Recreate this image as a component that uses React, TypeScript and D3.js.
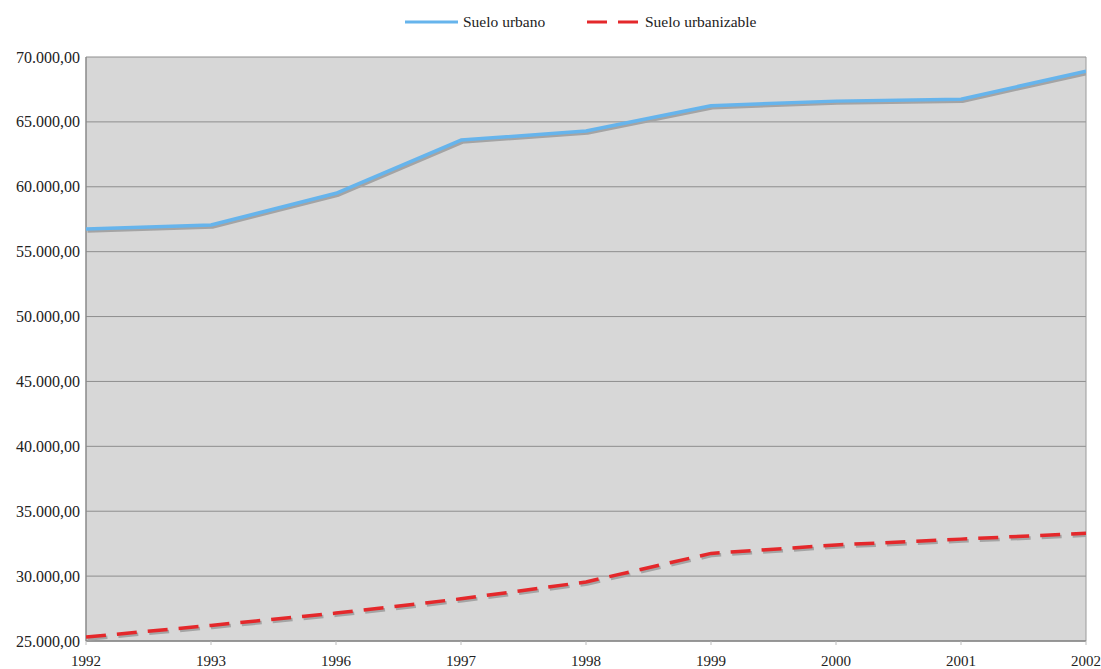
import React from "react";
import * as d3 from "d3";

// Years along the x axis (categorical, evenly spaced)
const years = ["1992", "1993", "1996", "1997", "1998", "1999", "2000", "2001", "2002"];

// Hectares of land by classification
const sueloUrbano = [56750, 57050, 59500, 63600, 64300, 66250, 66600, 66750, 68900];
const sueloUrbanizable = [25300, 26200, 27150, 28250, 29550, 31750, 32400, 32850, 33300];

const yTicks = [25000, 30000, 35000, 40000, 45000, 50000, 55000, 60000, 65000, 70000];

const seriesNames = ["Suelo urbano", "Suelo urbanizable"];

const W = 1101;
const H = 669;
const margin = { top: 57, right: 15, bottom: 28, left: 86 };

const fmt = (v: number) => {
  const s = Math.round(v).toString().replace(/\B(?=(\d{3})+(?!\d))/g, ".");
  return s + ",00";
};

const FONT =
  '"Liberation Serif", Tinos, "Times New Roman", Times, "DejaVu Serif", serif';

export default function App() {
  const x = d3
    .scalePoint<string>()
    .domain(years)
    .range([margin.left, W - margin.right]);
  const y = d3
    .scaleLinear()
    .domain([25000, 70000])
    .range([H - margin.bottom, margin.top]);

  const line = d3
    .line<number>()
    .x((_, i) => x(years[i]) as number)
    .y((d) => y(d));

  const x0 = margin.left;
  const x1 = W - margin.right;
  const yTop = margin.top;
  const yBot = H - margin.bottom;
  const txt = { fontFamily: FONT };

  return (
    <svg
      width={W}
      height={H}
      style={{ position: "absolute", left: 0, top: 0, background: "#fff", fontFamily: FONT }}
    >
      <defs>
        <clipPath id="plot-clip">
          <rect x={x0} y={yTop - 4} width={x1 - x0} height={yBot - yTop + 8} />
        </clipPath>
      </defs>

      {/* plot area */}
      <rect x={x0} y={yTop} width={x1 - x0} height={yBot - yTop} fill="#d7d7d7" />

      {/* horizontal gridlines */}
      {yTicks.map((t) => (
        <line
          key={t}
          x1={x0}
          x2={x1}
          y1={y(t)}
          y2={y(t)}
          stroke="#8e8e8e"
          strokeWidth={1}
        />
      ))}

      {/* frame */}
      <line x1={x0} x2={x0} y1={yTop} y2={yBot} stroke="#8a8a8a" strokeWidth={1.5} />
      <line x1={x1} x2={x1} y1={yTop} y2={yBot} stroke="#9a9a9a" strokeWidth={1} />
      <line x1={x0} x2={x1} y1={yBot} y2={yBot} stroke="#8a8a8a" strokeWidth={1.5} />

      {/* x ticks */}
      {years.map((yr) => (
        <line
          key={yr}
          x1={x(yr)}
          x2={x(yr)}
          y1={yBot}
          y2={yBot + 4}
          stroke="#bdbdbd"
          strokeWidth={1}
        />
      ))}

      <g clipPath="url(#plot-clip)">
        {/* drop shadows */}
        <path
          d={line(sueloUrbano) || ""}
          fill="none"
          stroke="#a4a4a4"
          strokeWidth={3.5}
          transform="translate(1.5,2)"
          strokeLinejoin="round"
        />
        <path
          d={line(sueloUrbanizable) || ""}
          fill="none"
          stroke="#a4a4a4"
          strokeWidth={3.5}
          strokeDasharray="20 11"
          transform="translate(1.5,2)"
        />
        {/* series */}
        <path
          d={line(sueloUrbano) || ""}
          fill="none"
          stroke="#66b4ec"
          strokeWidth={3.5}
          strokeLinejoin="round"
        />
        <path
          d={line(sueloUrbanizable) || ""}
          fill="none"
          stroke="#e4282b"
          strokeWidth={3.5}
          strokeDasharray="20 11"
        />
      </g>

      {/* y axis labels */}
      {yTicks.map((t) => (
        <text
          key={t}
          x={x0 - 6}
          y={y(t)}
          dy="0.35em"
          textAnchor="end"
          fontSize={16}
          fill="#222"
          style={txt}
        >
          {fmt(t)}
        </text>
      ))}

      {/* x axis labels */}
      {years.map((yr) => (
        <text
          key={yr}
          x={x(yr)}
          y={yBot + 25}
          textAnchor="middle"
          fontSize={15}
          fill="#222"
          style={txt}
        >
          {yr}
        </text>
      ))}

      {/* legend */}
      <g>
        <line x1={405} x2={458} y1={22} y2={22} stroke="#66b4ec" strokeWidth={3} />
        <text x={463} y={22} dy="0.35em" fontSize={15.5} fill="#222" style={txt}>
          {seriesNames[0]}
        </text>
        <line
          x1={587}
          x2={640}
          y1={22}
          y2={22}
          stroke="#e4282b"
          strokeWidth={3}
          strokeDasharray="20 11"
        />
        <text x={645} y={22} dy="0.35em" fontSize={15.5} fill="#222" style={txt}>
          {seriesNames[1]}
        </text>
      </g>
    </svg>
  );
}
